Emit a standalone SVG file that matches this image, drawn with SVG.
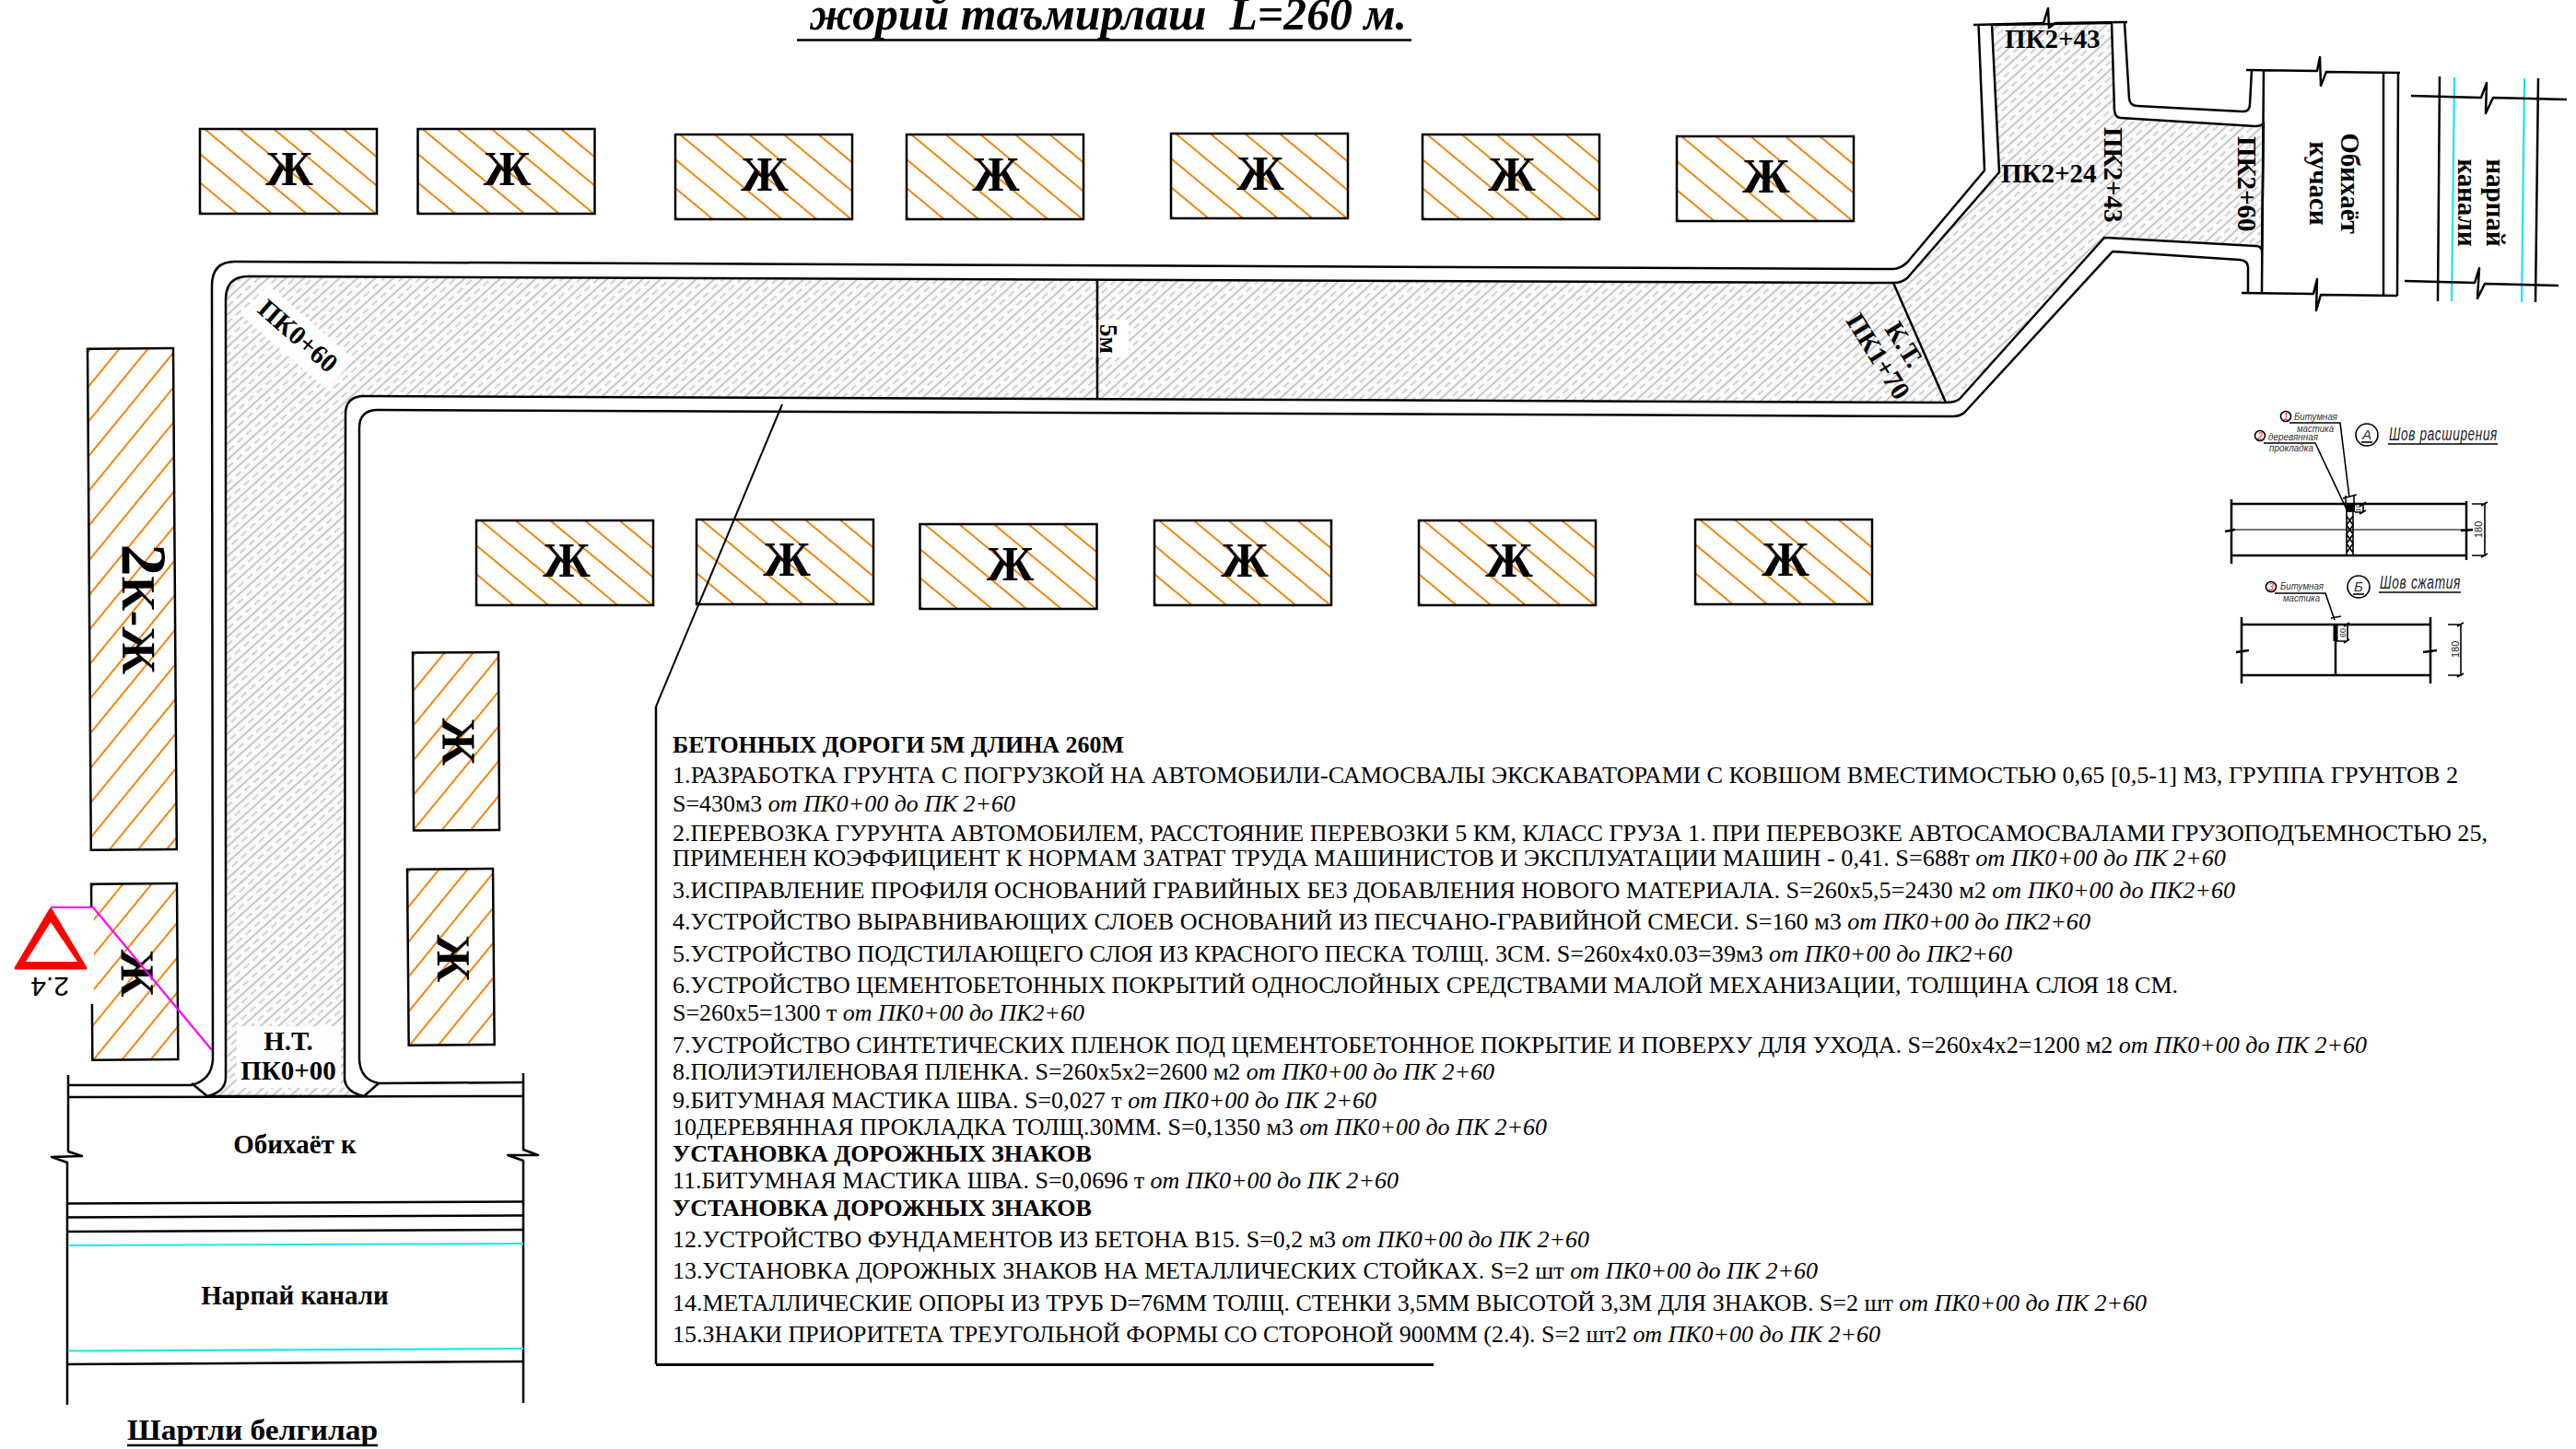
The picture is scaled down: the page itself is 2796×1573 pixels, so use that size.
<svg xmlns="http://www.w3.org/2000/svg" width="2796" height="1573" viewBox="0 0 2796 1573">
<style>
text{font-family:"Liberation Serif","Noto Sans CJK SC",serif;fill:#000}
.b{font-weight:700}
.l{font-size:29px;font-weight:700}
.c{text-anchor:middle}
.zh{font-size:52px;font-weight:700;text-anchor:middle}
.hs{fill:url(#hh);stroke:#000;stroke-width:2.5}
.ln{fill:none;stroke:#000;stroke-width:2.5;stroke-linejoin:round}
.thin{fill:none;stroke:#000;stroke-width:1.6}
.cy{fill:none;stroke:#19e6f0;stroke-width:2.2}
.t{font-size:26px}
.t tspan{font-style:italic}
.d{font-family:"Liberation Sans",sans-serif;font-style:italic;font-size:11px;fill:#333}
.dc{font-family:"Liberation Sans",sans-serif;font-style:italic;font-size:15px;fill:#333;text-anchor:middle}
.dt{font-family:"Liberation Sans",sans-serif;font-style:italic;font-size:20px;fill:#222;letter-spacing:1px}
.dn{font-family:"Liberation Sans",sans-serif;font-size:11px;fill:#222}
.rn{font-family:"Liberation Sans",sans-serif;font-style:italic;font-size:10px;fill:#e22;text-anchor:middle}
</style>
<defs>
<pattern id="hh" patternUnits="userSpaceOnUse" width="24" height="24" patternTransform="translate(5 0) rotate(39.7) translate(0 -12)">
<rect width="24" height="24" fill="#fff"/><path d="M0 12H24" stroke="#f5850f" stroke-width="2"/>
</pattern>
<pattern id="rd" patternUnits="userSpaceOnUse" width="39" height="13" patternTransform="rotate(-42)">
<rect width="39" height="13" fill="#fafafa"/>
<path d="M0 3H39" stroke="#b8b8b8" stroke-width="1.7"/>
<path d="M0 9.5H8M13 9.5H21M26 9.5H34" stroke="#c4c4c4" stroke-width="1.7"/>
</pattern>
</defs>
<rect width="2796" height="1573" fill="#fff"/>

<g id="title">
<text x="879" y="32" class="b" font-style="italic" font-size="50" textLength="648" lengthAdjust="spacingAndGlyphs" style="white-space:pre">жорий таъмирлаш  L=260 м.</text>
<path class="ln" d="M865 43.500H1532"/>
</g>

<g id="road">
<path d="M245 325Q245 300 270 300L2055 307Q2064 307 2070 302L2170 187L2162 27L2292 25L2295 120Q2296 128 2302 128L2448 137Q2455 137 2457 133L2455 273Q2455 267 2448 267L2284 258L2127 433Q2122 437 2112 437L395 430Q375 430 375 450L374 1170Q374 1185 395 1190L225 1190Q245 1185 245 1170Z" fill="url(#rd)" stroke="#000" stroke-width="2.500" stroke-linejoin="round"/>
<path class="ln" d="M74 1178H208Q230 1172 231 1150L230 310Q230 284 255 284L2055 292Q2062 292 2070 285L2154 185L2147.500 27"/>
<path class="ln" d="M568 1175L411 1176Q391 1172 390 1150L390 465Q390 445 410 445L2120 452Q2128 452 2133 447L2293 273L2431 282Q2440 283 2440 290V318"/>
<path class="ln" d="M2306 25L2311 107Q2312 115 2320 115L2433 121Q2442 122 2442 113L2444 76"/>
<path class="ln" d="M208 1176L225 1190M411 1176L395 1190"/>
<path class="ln" d="M2055 307L2112 437M1191 303V432"/>
<path class="ln" d="M2142 27L2218 25L2223 9L2224 30L2231 25L2309 24"/>
<path class="ln" d="M2438 76L2515 77L2518 62L2519 93L2525 78L2605 79M2457 76L2455 318M2587 79V320M2603 79L2602 321M2433 318L2511 319L2515 303L2514 337L2519 320L2602 321"/>
<rect x="1186" y="347" width="39" height="41" fill="#fff"/>
<path class="ln" d="M1191 340V395"/>
<rect x="257" y="1114" width="113" height="67" fill="#fff" opacity=".93"/>
<rect x="-62" y="-22" width="124" height="44" fill="#fff" opacity=".9" transform="translate(323 366) rotate(41)"/>
</g>

<g id="canals">
<path class="ln" d="M74 1167V1250L89 1255L56 1256L73 1262V1525M568 1165V1248L584 1254L551 1254L568 1260V1523"/>
<path class="ln" d="M74 1191L568 1190M74 1306.500L568 1304.500M74 1321.500L568 1319.500M74 1337L568 1335M74 1481L568 1478"/>
<path class="cy" d="M74 1352L568 1350M74 1466.500L568 1464M2664 84L2661 327M2740 85L2737 328"/>
<path class="ln" d="M2648 83L2646 327M2755 85L2752 328M2617 104L2693 106L2699 90L2698 123L2706 106L2786 108M2610 305L2686 307L2691 291L2689 324L2697 308L2777 310"/>
</g>

<g id="house-1" transform="translate(217 140)"><rect class="hs" width="192" height="92"/><text class="zh" x="97" y="61">Ж</text></g>
<g id="house-2" transform="translate(453.500 140)"><rect class="hs" width="192" height="92"/><text class="zh" x="97" y="61">Ж</text></g>
<g id="house-3" transform="translate(733 146)"><rect class="hs" width="192" height="92"/><text class="zh" x="97" y="61">Ж</text></g>
<g id="house-4" transform="translate(984 146)"><rect class="hs" width="192" height="92"/><text class="zh" x="97" y="61">Ж</text></g>
<g id="house-5" transform="translate(1271 145)"><rect class="hs" width="192" height="92"/><text class="zh" x="97" y="61">Ж</text></g>
<g id="house-6" transform="translate(1544 146)"><rect class="hs" width="192" height="92"/><text class="zh" x="97" y="61">Ж</text></g>
<g id="house-7" transform="translate(1820 148)"><rect class="hs" width="192" height="92"/><text class="zh" x="97" y="61">Ж</text></g>
<g id="house-8" transform="translate(517 565)"><rect class="hs" width="192" height="92"/><text class="zh" x="98" y="61">Ж</text></g>
<g id="house-9" transform="translate(756 564)"><rect class="hs" width="192" height="92"/><text class="zh" x="98" y="61">Ж</text></g>
<g id="house-10" transform="translate(998.500 569)"><rect class="hs" width="192" height="92"/><text class="zh" x="98" y="61">Ж</text></g>
<g id="house-11" transform="translate(1253 565)"><rect class="hs" width="192" height="92"/><text class="zh" x="98" y="61">Ж</text></g>
<g id="house-12" transform="translate(1540 565)"><rect class="hs" width="192" height="92"/><text class="zh" x="98" y="61">Ж</text></g>
<g id="house-13" transform="translate(1840 564)"><rect class="hs" width="192" height="92"/><text class="zh" x="98" y="61">Ж</text></g>
<g id="house-14" transform="translate(188 378) rotate(89.6)"><rect class="hs" width="544" height="93"/><text x="212" y="57" class="b" font-size="52"><tspan font-size="70">2</tspan>К-Ж</text></g>
<g id="house-15" transform="translate(541 708) rotate(89.7)"><rect class="hs" width="193" height="93"/><text class="zh" x="97" y="61">Ж</text></g>
<g id="house-16" transform="translate(535 943) rotate(89.5)"><rect class="hs" width="191" height="93"/><text class="zh" x="97" y="61">Ж</text></g>
<g id="house-17" transform="translate(192 959) rotate(89.6)"><rect class="hs" width="191" height="93"/><text class="zh" x="97" y="61">Ж</text></g>

<g id="sign">
<rect x="60" y="986" width="42" height="104" fill="#fff"/>
<path d="M55 985H101L230 1140" fill="none" stroke="#f0f" stroke-width="2.200"/>
<path d="M55 987L93 1051H17Z" fill="#f00" stroke="#f00" stroke-width="3" stroke-linejoin="round"/>
<path d="M55 1001L84 1044H28Z" fill="#fff"/>
<text transform="translate(75 1061) rotate(180)" x="0" y="0" font-size="30" style="font-family:'Liberation Sans',sans-serif">2.4</text>
</g>

<g id="labels">
<text class="l" x="2176" y="52">ПК2+43</text>
<text class="l" x="2172" y="198">ПК2+24</text>
<text class="l" transform="translate(2284 138) rotate(90)">ПК2+43</text>
<text class="l" transform="translate(2429 148) rotate(90)">ПК2+60</text>
<text class="l c" transform="translate(2541 199) rotate(90)">Обихаёт</text>
<text class="l c" transform="translate(2507 199) rotate(90)">кучаси</text>
<text class="l c" transform="translate(2699 220) rotate(90)">нарпай</text>
<text class="l c" transform="translate(2668 220) rotate(90)">канали</text>
<text class="l" transform="translate(278 338) rotate(41)">ПК0+60</text>
<text class="l" transform="translate(2045 357) rotate(58)">К.Т.</text>
<text class="l" transform="translate(2003 348) rotate(58)">ПК1+70</text>
<text class="b" font-size="27" transform="translate(1194 352) rotate(90)">5м</text>
<text class="l c" x="313" y="1140">Н.Т.</text>
<text class="l c" x="313" y="1172">ПК0+00</text>
<text class="l c" x="320" y="1252">Обихаёт к</text>
<text class="l c" x="320" y="1416">Нарпай канали</text>
<text x="138" y="1563" class="b" font-size="32" textLength="272" lengthAdjust="spacingAndGlyphs">Шартли белгилар</text>
<path class="ln" d="M138 1569H410"/>
</g>

<g id="notes">
<path d="M849 439L712 767" stroke="#000" stroke-width="2" fill="none"/>
<path class="ln" d="M712 767V1481"/>
<path d="M712 1481.500H1556" stroke="#000" stroke-width="3"/>
<text class="t b" x="730" y="817" textLength="490" lengthAdjust="spacingAndGlyphs">БЕТОННЫХ ДОРОГИ 5М ДЛИНА 260М</text>
<text class="t" x="730" y="850" textLength="1938" lengthAdjust="spacingAndGlyphs">1.РАЗРАБОТКА ГРУНТА С ПОГРУЗКОЙ НА АВТОМОБИЛИ-САМОСВАЛЫ ЭКСКАВАТОРАМИ С КОВШОМ ВМЕСТИМОСТЬЮ 0,65 [0,5-1] М3, ГРУППА ГРУНТОВ 2</text>
<text class="t" x="730" y="881" textLength="372" lengthAdjust="spacingAndGlyphs">S=430м3 <tspan>от ПК0+00 до ПК 2+60</tspan></text>
<text class="t" x="730" y="913" textLength="1970" lengthAdjust="spacingAndGlyphs">2.ПЕРЕВОЗКА ГУРУНТА АВТОМОБИЛЕМ, РАССТОЯНИЕ ПЕРЕВОЗКИ 5 КМ, КЛАСС ГРУЗА 1. ПРИ ПЕРЕВОЗКЕ АВТОСАМОСВАЛАМИ ГРУЗОПОДЪЕМНОСТЬЮ 25,</text>
<text class="t" x="730" y="940" textLength="1686" lengthAdjust="spacingAndGlyphs">ПРИМЕНЕН КОЭФФИЦИЕНТ К НОРМАМ ЗАТРАТ ТРУДА МАШИНИСТОВ И ЭКСПЛУАТАЦИИ МАШИН - 0,41. S=688т <tspan>от ПК0+00 до ПК 2+60</tspan></text>
<text class="t" x="730" y="975" textLength="1696" lengthAdjust="spacingAndGlyphs">3.ИСПРАВЛЕНИЕ ПРОФИЛЯ ОСНОВАНИЙ ГРАВИЙНЫХ БЕЗ ДОБАВЛЕНИЯ НОВОГО МАТЕРИАЛА. S=260х5,5=2430 м2 <tspan>от ПК0+00 до ПК2+60</tspan></text>
<text class="t" x="730" y="1009" textLength="1539" lengthAdjust="spacingAndGlyphs">4.УСТРОЙСТВО ВЫРАВНИВАЮЩИХ СЛОЕВ ОСНОВАНИЙ ИЗ ПЕСЧАНО-ГРАВИЙНОЙ СМЕСИ. S=160 м3 <tspan>от ПК0+00 до ПК2+60</tspan></text>
<text class="t" x="730" y="1044" textLength="1454" lengthAdjust="spacingAndGlyphs">5.УСТРОЙСТВО ПОДСТИЛАЮЩЕГО СЛОЯ ИЗ КРАСНОГО ПЕСКА ТОЛЩ. 3СМ. S=260х4х0.03=39м3 <tspan>от ПК0+00 до ПК2+60</tspan></text>
<text class="t" x="730" y="1078" textLength="1634" lengthAdjust="spacingAndGlyphs">6.УСТРОЙСТВО ЦЕМЕНТОБЕТОННЫХ ПОКРЫТИЙ ОДНОСЛОЙНЫХ СРЕДСТВАМИ МАЛОЙ МЕХАНИЗАЦИИ, ТОЛЩИНА СЛОЯ 18 СМ.</text>
<text class="t" x="730" y="1108" textLength="447" lengthAdjust="spacingAndGlyphs">S=260х5=1300 т <tspan>от ПК0+00 до ПК2+60</tspan></text>
<text class="t" x="730" y="1143" textLength="1839" lengthAdjust="spacingAndGlyphs">7.УСТРОЙСТВО СИНТЕТИЧЕСКИХ ПЛЕНОК ПОД ЦЕМЕНТОБЕТОННОЕ ПОКРЫТИЕ И ПОВЕРХУ ДЛЯ УХОДА. S=260х4х2=1200 м2 <tspan>от ПК0+00 до ПК 2+60</tspan></text>
<text class="t" x="730" y="1172" textLength="892" lengthAdjust="spacingAndGlyphs">8.ПОЛИЭТИЛЕНОВАЯ ПЛЕНКА. S=260х5х2=2600 м2 <tspan>от ПК0+00 до ПК 2+60</tspan></text>
<text class="t" x="730" y="1203" textLength="764" lengthAdjust="spacingAndGlyphs">9.БИТУМНАЯ МАСТИКА ШВА. S=0,027 т <tspan>от ПК0+00 до ПК 2+60</tspan></text>
<text class="t" x="730" y="1232" textLength="949" lengthAdjust="spacingAndGlyphs">10ДЕРЕВЯННАЯ ПРОКЛАДКА ТОЛЩ.30ММ. S=0,1350 м3 <tspan>от ПК0+00 до ПК 2+60</tspan></text>
<text class="t b" x="730" y="1261" textLength="455" lengthAdjust="spacingAndGlyphs">УСТАНОВКА ДОРОЖНЫХ ЗНАКОВ</text>
<text class="t" x="730" y="1290" textLength="788" lengthAdjust="spacingAndGlyphs">11.БИТУМНАЯ МАСТИКА ШВА. S=0,0696 т <tspan>от ПК0+00 до ПК 2+60</tspan></text>
<text class="t b" x="730" y="1320" textLength="455" lengthAdjust="spacingAndGlyphs">УСТАНОВКА ДОРОЖНЫХ ЗНАКОВ</text>
<text class="t" x="730" y="1354" textLength="995" lengthAdjust="spacingAndGlyphs">12.УСТРОЙСТВО ФУНДАМЕНТОВ ИЗ БЕТОНА В15. S=0,2 м3 <tspan>от ПК0+00 до ПК 2+60</tspan></text>
<text class="t" x="730" y="1388" textLength="1243" lengthAdjust="spacingAndGlyphs">13.УСТАНОВКА ДОРОЖНЫХ ЗНАКОВ НА МЕТАЛЛИЧЕСКИХ СТОЙКАХ. S=2 шт <tspan>от ПК0+00 до ПК 2+60</tspan></text>
<text class="t" x="730" y="1423" textLength="1600" lengthAdjust="spacingAndGlyphs">14.МЕТАЛЛИЧЕСКИЕ ОПОРЫ ИЗ ТРУБ D=76ММ ТОЛЩ. СТЕНКИ 3,5ММ ВЫСОТОЙ 3,3М ДЛЯ ЗНАКОВ. S=2 шт <tspan>от ПК0+00 до ПК 2+60</tspan></text>
<text class="t" x="730" y="1457" textLength="1311" lengthAdjust="spacingAndGlyphs">15.ЗНАКИ ПРИОРИТЕТА ТРЕУГОЛЬНОЙ ФОРМЫ СО СТОРОНОЙ 900ММ (2.4). S=2 шт2 <tspan>от ПК0+00 до ПК 2+60</tspan></text>
</g>

<g id="detail-a">
<path class="ln" d="M2422 547H2677M2422 603H2677M2422 542V612M2677 544V608"/>
<path d="M2422 575H2677" stroke="#777" stroke-width="2"/>
<path class="ln" d="M2415 577L2425 575L2421 576M2671 576L2684 575"/>
<path class="thin" d="M2547 547V603M2554 547V603M2547 560L2554 570L2547 580L2554 590L2547 600M2554 560L2547 570L2554 580L2547 590L2554 600"/>
<rect x="2546" y="547" width="10" height="9" fill="#000"/>
<path class="thin" d="M2485 459H2540L2550 540M2457 481H2513L2547 553M2546 538V547M2555 538V547M2543 541L2558 537M2556 556H2565M2565 547V556M2561 550L2568 545M2561 558L2568 554M2683 547H2698M2683 603H2698M2697 547V603M2693 549L2700 545M2693 605L2700 601"/>
<circle class="thin" cx="2481" cy="452" r="5.500" stroke-width="1"/><text class="rn" x="2481" y="456">1</text>
<circle class="thin" cx="2453" cy="473" r="5.500" stroke-width="1"/><text class="rn" x="2453" y="477">2</text>
<text class="d" x="2490" y="456" textLength="47" lengthAdjust="spacingAndGlyphs">Битумная</text>
<text class="d" x="2493" y="469" textLength="40" lengthAdjust="spacingAndGlyphs">мастика</text>
<text class="d" x="2462" y="478" textLength="54" lengthAdjust="spacingAndGlyphs">деревянная</text>
<text class="d" x="2463" y="490" textLength="48" lengthAdjust="spacingAndGlyphs">прокладка</text>
<circle class="thin" cx="2569" cy="472" r="12"/>
<text class="dc" x="2569" y="477">А</text>
<path class="thin" d="M2563 480H2575"/>
<text class="dt" x="2593" y="478" textLength="118" lengthAdjust="spacingAndGlyphs">Шов расширения</text>
<path class="thin" d="M2592 482H2711"/>
<text class="dn" transform="translate(2694 584) rotate(-90)">180</text>
<text class="dn" style="font-size:8px" transform="translate(2562 556) rotate(-90)">10</text>
</g>

<g id="detail-b">
<path class="ln" d="M2433 678H2638M2433 733H2638M2433 670V742M2638 670V742M2535 678V733"/>
<path d="M2535 678V696" stroke="#000" stroke-width="5"/>
<path class="ln" d="M2427 708L2441 706M2630 708L2645 706"/>
<path class="thin" d="M2469 644H2524L2534 673M2530 671L2541 669M2535 696H2548M2548 678V696M2544 680L2550 676M2544 698L2550 694M2657 678H2672M2657 733H2672M2671 678V733M2667 680L2674 676M2667 735L2674 731"/>
<circle class="thin" cx="2465" cy="637" r="5.500" stroke-width="1"/><text class="rn" x="2465" y="641">3</text>
<text class="d" x="2475" y="640" textLength="47" lengthAdjust="spacingAndGlyphs">Битумная</text>
<text class="d" x="2478" y="653" textLength="40" lengthAdjust="spacingAndGlyphs">мастика</text>
<circle class="thin" cx="2560" cy="637" r="12"/>
<text class="dc" x="2560" y="642">Б</text>
<path class="thin" d="M2554 645H2566"/>
<text class="dt" x="2583" y="639" textLength="88" lengthAdjust="spacingAndGlyphs">Шов сжатия</text>
<path class="thin" d="M2582 643H2671"/>
<text class="dn" transform="translate(2669 714) rotate(-90)">180</text>
<text class="dn" style="font-size:9px" transform="translate(2546 692) rotate(-90)">60</text>
</g>
</svg>
